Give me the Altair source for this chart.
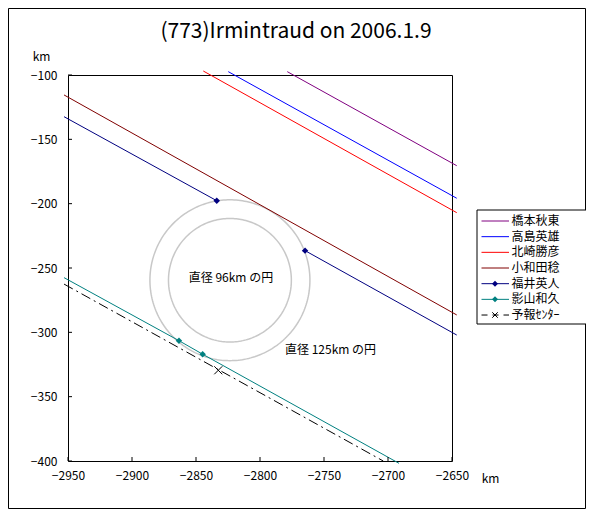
import altair as alt
import pandas as pd
import numpy as np

FONT = "Noto Sans CJK JP"
TITLE = "(773)Irmintraud on 2006.1.9"

names = ["橋本秋東", "高島英雄", "北崎勝彦", "小和田稔", "福井英人", "影山和久", "予報ｾﾝﾀｰ"]
colors = ["#800080", "#0000FF", "#FF0000", "#800000", "#000080", "#008080", "#000000"]

# chord lines (km)
hashimoto_x = [-2778.7, -2646.3]
hashimoto_y = [-97.4, -170.5]
takashima_x = [-2824.8, -2646.3]
takashima_y = [-97.4, -195.8]
kitazaki_x = [-2844.3, -2646.3]
kitazaki_y = [-96.9, -207.0]
kowada_x = [-2953.1, -2646.3]
kowada_y = [-115.5, -286.5]
fukui1_x = [-2953.1, -2833.8]
fukui1_y = [-132.4, -197.7]
fukui2_x = [-2764.8, -2646.3]
fukui2_y = [-236.5, -302.1]
kageyama_x = [-2953.1, -2863.3, -2844.8, -2691.4]
kageyama_y = [-257.5, -306.5, -317.0, -401.8]
center_x = [-2953.1, -2703.7]
center_y = [-262.5, -400.0]

# markers
fukui_mark_x = [-2833.8, -2764.8]
fukui_mark_y = [-197.7, -236.5]
kageyama_mark_x = [-2863.3, -2844.8]
kageyama_mark_y = [-306.5, -317.0]
center_mark_x = [-2832.6]
center_mark_y = [-329.5]

# reference circles
circle_cx, circle_cy = -2823.5, -259.5
circle_diam = [96, 125]
circle_labels = ["直径 96km の円", "直径 125km の円"]
label_x = [-2822.7, -2744.9]
label_y = [-257.8, -313.7]

x_ticks = [-2950, -2900, -2850, -2800, -2750, -2700, -2650]
y_ticks = [-400, -350, -300, -250, -200, -150, -100]

W, H = 384, 386

# ---- tables ----
rows = []
for nm, seg, xs_, ys_ in [
    (names[0], "a", hashimoto_x, hashimoto_y),
    (names[1], "b", takashima_x, takashima_y),
    (names[2], "c", kitazaki_x, kitazaki_y),
    (names[3], "d", kowada_x, kowada_y),
    (names[4], "e1", fukui1_x, fukui1_y),
    (names[4], "e2", fukui2_x, fukui2_y),
    (names[5], "f", kageyama_x, kageyama_y),
]:
    for xv, yv in zip(xs_, ys_):
        rows.append({"x": xv, "y": yv, "name": nm, "seg": seg})
lines_df = pd.DataFrame(rows)

marks_df = pd.DataFrame(
    {"x": fukui_mark_x + kageyama_mark_x,
     "y": fukui_mark_y + kageyama_mark_y,
     "name": [names[4]] * 2 + [names[5]] * 2})
center_df = pd.DataFrame({"x": center_x, "y": center_y})
center_mark_df = pd.DataFrame({"x": center_mark_x, "y": center_mark_y})

crow = []
t = np.linspace(0, 2 * np.pi, 241)
for d in circle_diam:
    r = d / 2
    for i, a in enumerate(t):
        crow.append({"x": circle_cx + r * np.cos(a), "y": circle_cy + r * np.sin(a),
                     "ring": str(d), "i": i})
circ_df = pd.DataFrame(crow)
clabel_df = pd.DataFrame({"x": label_x, "y": label_y, "t": circle_labels})

xs = alt.Scale(domain=[-2950, -2650], nice=False, zero=False)
ys = alt.Scale(domain=[-400, -100], nice=False, zero=False)

x_axis = alt.Axis(values=x_ticks, ticks=False, domain=False, grid=False,
                  labelPadding=9, labelFontSize=12, labelFont=FONT, labelColor="black",
                  labelFlush=False, labelOverlap=False, format="d",
                  title="km", titleAngle=0, titleX=422, titleY=17, titleAlign="center",
                  titleBaseline="middle", titleFontWeight="normal", titleFontSize=12,
                  titleFont=FONT, titleColor="black")
y_axis = alt.Axis(values=y_ticks, ticks=False, domain=False, grid=False,
                  labelPadding=11, labelFontSize=12, labelFont=FONT, labelColor="black",
                  labelFlush=False, labelOverlap=False, format="d",
                  title="km", titleAngle=0, titleX=-27, titleY=-19, titleAlign="center",
                  titleBaseline="middle", titleFontWeight="normal", titleFontSize=12,
                  titleFont=FONT, titleColor="black")

X = alt.X("x:Q", scale=xs, axis=x_axis)
Y = alt.Y("y:Q", scale=ys, axis=y_axis)

color_scale = alt.Scale(domain=names, range=colors)

one = pd.DataFrame({"k": [0]})

layers = []

# outer chart border
layers.append(alt.Chart(one).mark_rect(fillOpacity=0, stroke="black", strokeWidth=1).encode(
    x=alt.value(-59.5), x2=alt.value(517.5), y=alt.value(-66.5), y2=alt.value(433.5)))

# circles
layers.append(alt.Chart(circ_df).mark_line(color="#C8C8C8", strokeWidth=1.5).encode(
    x=X, y=Y, detail="ring:N", order="i:Q"))

# chord lines
layers.append(alt.Chart(lines_df).mark_line(strokeWidth=1).encode(
    x=X, y=Y, detail="seg:N",
    color=alt.Color("name:N", scale=color_scale, legend=None)))

# prediction center line
layers.append(alt.Chart(center_df).mark_line(color="black", strokeWidth=1,
                                             strokeDash=[10, 4, 2, 4]).encode(x=X, y=Y))

# markers
layers.append(alt.Chart(marks_df).mark_point(shape="diamond", filled=True, size=42, opacity=1).encode(
    x=X, y=Y, color=alt.Color("name:N", scale=color_scale, legend=None)))
XPATH = "M-1,-1L1,1M-1,1L1,-1"
layers.append(alt.Chart(center_mark_df).mark_point(shape=XPATH, filled=False, size=64,
                                                   color="black", strokeWidth=1, opacity=1).encode(x=X, y=Y))

# circle labels
layers.append(alt.Chart(clabel_df).mark_text(font=FONT, fontSize=12, color="black",
                                             baseline="middle", align="center").encode(
    x=X, y=Y, text="t:N"))

# inward ticks
layers.append(alt.Chart(pd.DataFrame({"x": x_ticks})).mark_rule(color="black", strokeWidth=1).encode(
    x=X, y=alt.value(H), y2=alt.value(H - 4)))
layers.append(alt.Chart(pd.DataFrame({"y": y_ticks})).mark_rule(color="black", strokeWidth=1).encode(
    y=Y, x=alt.value(0), x2=alt.value(4)))

# title
layers.append(alt.Chart(pd.DataFrame({"t": [TITLE]})).mark_text(
    font=FONT, fontSize=21, color="black", baseline="middle", align="center").encode(
    x=alt.value(228), y=alt.value(-43), text="t:N"))

# legend
LX0, LY0, LX1, LY1 = 409, 135, 521.5, 249
layers.append(alt.Chart(one).mark_rect(fill="white", stroke="black", strokeWidth=1).encode(
    x=alt.value(LX0), x2=alt.value(LX1), y=alt.value(LY0), y2=alt.value(LY1)))
step = 15.67
for i, (nm, col) in enumerate(zip(names, colors)):
    yy = 146 + i * step
    if i == len(names) - 1:
        layers.append(alt.Chart(one).mark_rule(color=col, strokeWidth=1, strokeDash=[6, 5]).encode(
            x=alt.value(413.5), x2=alt.value(441), y=alt.value(yy)))
        layers.append(alt.Chart(one).mark_point(shape=XPATH, filled=False, size=30, color=col,
                                                strokeWidth=1, opacity=1).encode(
            x=alt.value(427), y=alt.value(yy)))
    else:
        layers.append(alt.Chart(one).mark_rule(color=col, strokeWidth=1).encode(
            x=alt.value(413.5), x2=alt.value(441), y=alt.value(yy)))
        if i in (4, 5):
            layers.append(alt.Chart(one).mark_point(shape="diamond", filled=True, size=36,
                                                    color=col, opacity=1).encode(
                x=alt.value(427), y=alt.value(yy)))
    layers.append(alt.Chart(pd.DataFrame({"t": [nm]})).mark_text(
        font=FONT, fontSize=12, color="black", align="left", baseline="middle").encode(
        x=alt.value(443.5), y=alt.value(yy), text="t:N"))

chart = alt.layer(*layers).properties(
    width=W, height=H,
    autosize=alt.AutoSizeParams(type="none"),
    padding={"left": 60, "top": 67, "right": 134, "bottom": 48},
    background="white",
).configure_view(stroke="black", strokeWidth=1)

chart.save("out.html", embed_options={"renderer": "svg", "actions": False})
